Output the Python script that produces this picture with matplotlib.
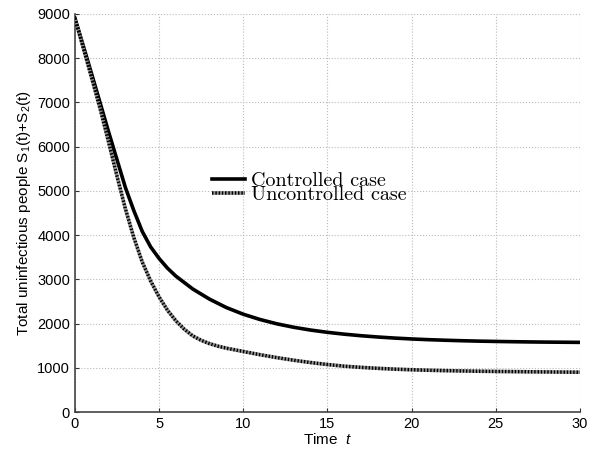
import matplotlib
matplotlib.use("Agg")
import matplotlib.pyplot as plt

plt.rcParams['font.family'] = ['Liberation Sans', 'DejaVu Sans']
plt.rcParams['mathtext.fontset'] = 'custom'
plt.rcParams['mathtext.it'] = 'Liberation Sans:italic'
plt.rcParams['mathtext.rm'] = 'Liberation Sans'

# values
t_ctrl = [0, 0.5, 1, 1.5, 2, 2.5, 3, 3.5, 4, 4.5, 5, 5.5, 6, 7, 8, 9, 10,
          11, 12, 13, 14, 15, 16, 17, 18, 19, 20, 21, 22, 23, 24, 25,
          26, 27, 28, 29, 30]
s_ctrl = [8900, 8270, 7630, 6980, 6330, 5700, 5070, 4550, 4080, 3730, 3470, 3250, 3070, 2780, 2550, 2360, 2210,
          2090, 1993, 1915, 1852, 1801, 1759, 1724, 1695, 1671, 1651, 1635, 1622, 1611, 1602, 1595,
          1589, 1584, 1580, 1577, 1574]

t_unc = [0, 0.5, 1, 1.5, 2, 2.5, 3, 3.5, 4, 4.5, 5, 5.5, 6, 6.5, 7, 7.5, 8, 8.5, 9, 10,
         11, 12, 13, 14, 15, 16, 17, 18, 19, 20, 21, 22, 23, 24, 25,
         26, 27, 28, 29, 30]
s_unc = [8900, 8220, 7540, 6850, 6100, 5330, 4590, 3940, 3390, 2960, 2600, 2300, 2060, 1870, 1720, 1620, 1545, 1488, 1442, 1368,
         1295, 1229, 1170, 1118, 1073, 1036, 1009, 987, 969, 955, 944, 935, 928, 922, 917,
         913, 909, 906, 903, 900]

xticks = [0, 5, 10, 15, 20, 25, 30]
yticks = [0, 1000, 2000, 3000, 4000, 5000, 6000, 7000, 8000, 9000]

fig = plt.figure(figsize=(5.9, 4.5), dpi=100)
ax = fig.add_axes([0.127, 0.0844, 0.856, 0.885])

ax.plot(t_ctrl, s_ctrl, color='black', lw=2.6, label='Controlled case',
        solid_joinstyle='round', zorder=3)
ax.plot(t_unc, s_unc, color='black', lw=2.6, linestyle=(0, (0.45, 0.45)),
        gapcolor='#8f8f8f', label='Uncontrolled case', zorder=3)

ax.set_xlim(0, 30)
ax.set_ylim(0, 9000)
ax.set_xticks(xticks)
ax.set_yticks(yticks)
ax.tick_params(direction='in', length=3, labelsize=10.5, colors='#333333',
               labelcolor='black', width=0.8)
ax.grid(True, linestyle=':', color='#bbbbbb', lw=0.8)
for side in ['top', 'right']:
    ax.spines[side].set_visible(False)
for side in ['left', 'bottom']:
    ax.spines[side].set_color('#444444')
    ax.spines[side].set_linewidth(1.2)

ax.set_xlabel('Time  $t$', fontsize=11, labelpad=1)
ax.set_ylabel('Total uninfectious people S$_1$(t)+S$_2$(t)', fontsize=11, labelpad=3)

ax.legend(loc='center left', bbox_to_anchor=(0.252, 0.563), frameon=False,
          prop={'family': 'cmr10', 'size': 14.5}, handlelength=1.65,
          handletextpad=0.25, labelspacing=-0.23, borderpad=0)

fig.savefig('out.png', dpi=100)
